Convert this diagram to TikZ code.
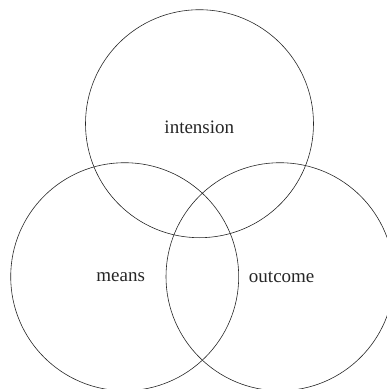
\documentclass[tikz,border=0pt]{standalone}
\usepackage{fontspec}
\setmainfont{Liberation Serif}
\begin{document}
\begin{tikzpicture}[x=1pt,y=-1pt,
  venn/.style={circle,draw=black!85,line width=0.6pt,minimum size=228pt,inner sep=0pt},
  lbl/.style={font=\fontsize{19}{22}\selectfont,text=black!85,inner sep=0pt}]
\useasboundingbox (0,0) rectangle (387,389);
\node[venn] (top) at (199.5,123.7) {};
\node[venn] (left) at (124.7,276.7) {};
\node[venn] (right) at (280,276.7) {};
\node[lbl] (tI) at (199.3,127) {intension};
\node[lbl] (tM) at (120.7,277) {means};
\node[lbl] (tO) at (281.7,277) {outcome};
\end{tikzpicture}
\end{document}
